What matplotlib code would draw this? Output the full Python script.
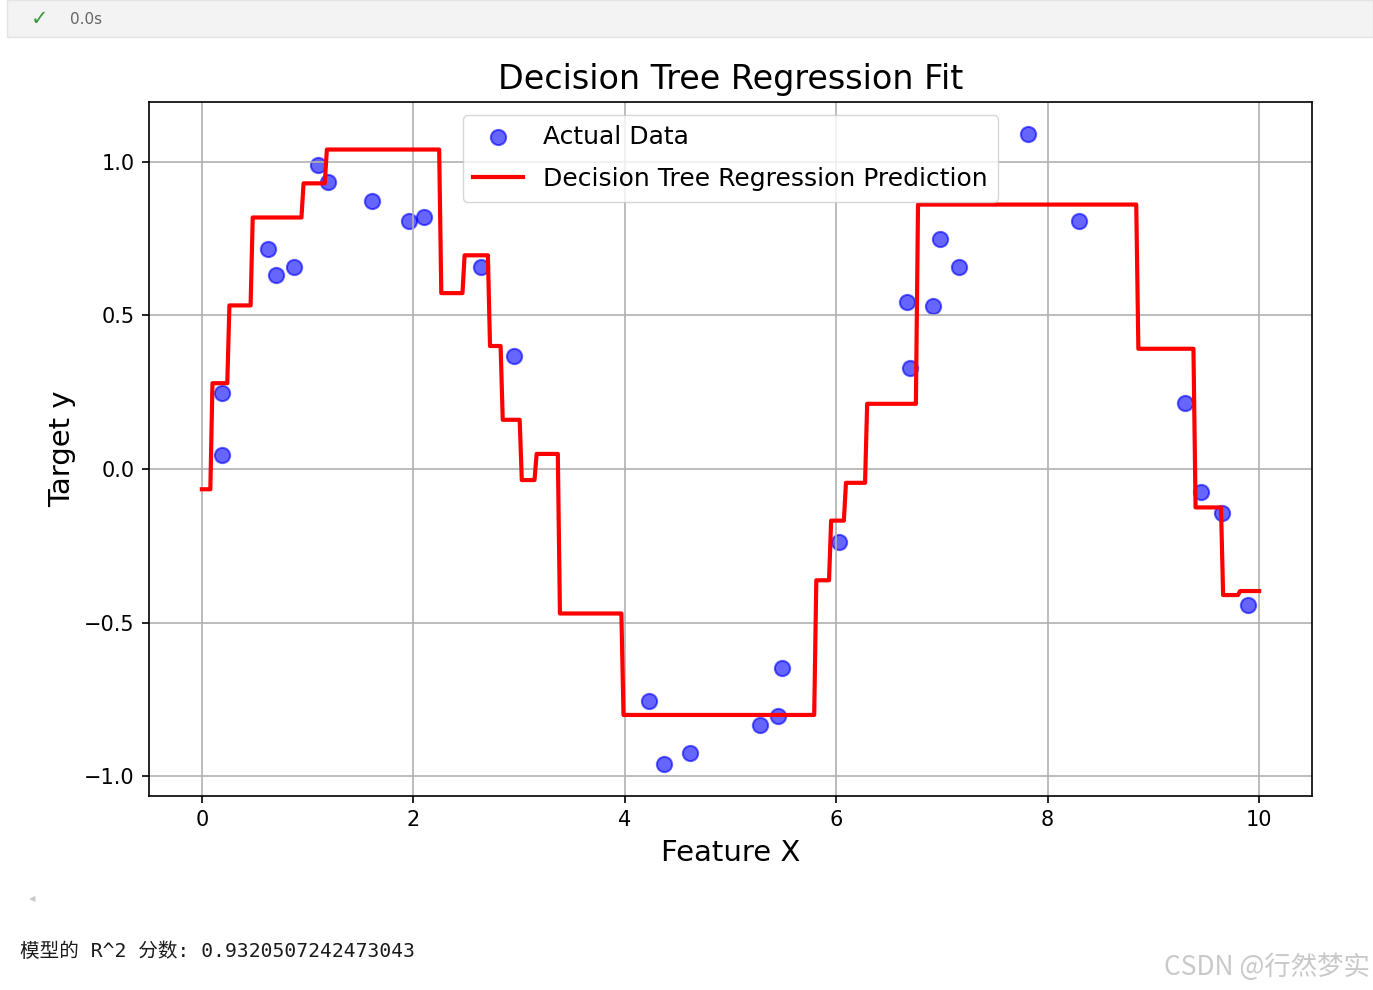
import numpy as np
import matplotlib
matplotlib.use("Agg")
import matplotlib.pyplot as plt
from matplotlib.patches import Rectangle

x_data = [0.19, 0.19, 0.625, 0.70, 0.87, 1.10, 1.19, 1.61, 1.96, 2.10,
          2.64, 2.95, 4.23, 4.375, 4.62, 5.28, 5.445, 5.49, 6.03, 6.67,
          6.70, 6.92, 6.98, 7.16, 7.81, 8.30, 9.30, 9.45, 9.65, 9.89]
y_data = [0.248, 0.046, 0.717, 0.632, 0.658, 0.99, 0.935, 0.873, 0.805, 0.818,
          0.658, 0.368, -0.756, -0.961, -0.925, -0.834, -0.805, -0.648, -0.238, 0.544,
          0.329, 0.531, 0.749, 0.658, 1.091, 0.808, 0.215, -0.075, -0.143, -0.443]

# 决策树的分裂点和叶子值
split_points = [0.10, 0.26, 0.48, 0.95, 1.18, 2.26, 2.47, 2.72, 2.84, 3.01, 3.15,
                3.38, 3.97, 5.80, 5.94, 6.08, 6.28, 6.76, 8.84, 9.39, 9.64, 9.81]
leaf_values = [-0.066, 0.279, 0.532, 0.818, 0.929, 1.039, 0.572, 0.695, 0.40, 0.16,
               -0.036, 0.049, -0.47, -0.80, -0.362, -0.168, -0.045, 0.212, 0.86,
               0.391, -0.125, -0.41, -0.397]

r2_score = "0.9320507242473043"

W, H = 1373, 990
fig = plt.figure(figsize=(W / 100, H / 100), dpi=100)

# Jupyter 单元格顶部的状态栏
fig.patches.append(Rectangle((7 / W, 1 - 37 / H), 1 - 7 / W, 37 / H, transform=fig.transFigure,
                             facecolor='#f3f3f3', edgecolor='#e3e3e3', linewidth=1))
fig.text(40 / W, 1 - 19 / H, '✓', color='#3a9a3a', fontsize=15, ha='center', va='center')
fig.text(70 / W, 1 - 19 / H, '0.0s', color='#666666', fontsize=11, ha='left', va='center')

ax = fig.add_axes([149 / W, 1 - 796 / H, (1312 - 149) / W, (796 - 102) / H])

x_grid = np.linspace(0, 10, 500)
y_pred = np.array(leaf_values)[np.searchsorted(split_points, x_grid, side='right')]

ax.scatter(x_data, y_data, color='blue', alpha=0.6, s=120, linewidths=1.5, label='Actual Data')
ax.plot(x_grid, y_pred, color='red', linewidth=3, label='Decision Tree Regression Prediction')

ax.set_title('Decision Tree Regression Fit', fontsize=24, pad=9)
ax.set_xlabel('Feature X', fontsize=21, labelpad=6)
ax.set_ylabel('Target y', fontsize=21, labelpad=6)
ax.tick_params(labelsize=15, length=5.25, width=1.2, pad=5)
for sp in ax.spines.values():
    sp.set_linewidth(1.2)
ax.grid(True, linewidth=1.2, color='#b0b0b0')
ax.legend(loc='upper center', fontsize=18, borderpad=0.42, labelspacing=0.72, handlelength=2.0)

# 输出文字
fig.text(32 / W, 1 - 899 / H, '◀', color='#c8c8c8', fontsize=6, ha='center', va='center')
fig.text(20 / W, 1 - 951 / H, '模型的 R^2 分数: ' + r2_score, fontsize=14.1, color='#1a1a1a',
         family=['DejaVu Sans Mono', 'Noto Sans CJK SC'], ha='left', va='center')
fig.text(1370 / W, 1 - 967 / H, 'CSDN @行然梦实', fontsize=19, color='#c9c9c9',
         family=['Noto Sans CJK SC', 'DejaVu Sans'], ha='right', va='center')

fig.savefig('out.png', dpi=100)
